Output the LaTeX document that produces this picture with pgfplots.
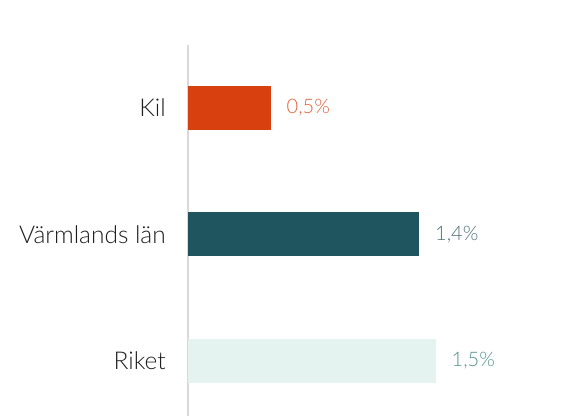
\documentclass[border=0pt]{standalone}
\usepackage{pgfplots}
\pgfplotsset{compat=1.18}
\usepackage{fontspec}
\setmainfont{Lato Light}
\definecolor{kilc}{HTML}{D9400F}
\definecolor{killab}{HTML}{E0623A}
\definecolor{varmc}{HTML}{1F555E}
\definecolor{varmlab}{HTML}{4E7177}
\definecolor{riketc}{HTML}{E4F3F0}
\definecolor{riketlab}{HTML}{55918F}
\definecolor{axc}{HTML}{D9D9D9}
\definecolor{txt}{HTML}{1E1E1E}
\begin{document}
\begin{tikzpicture}[x=1pt,y=1pt]
\useasboundingbox (0,0) rectangle (587,416);
\begin{axis}[
  at={(188pt,0pt)}, anchor=south west,
  scale only axis, width=399pt, height=371pt,
  xmin=0, xmax=2.418,
  ymin=-0.498, ymax=2.435,
  y dir=reverse,
  axis x line=none,
  axis y line=left,
  y axis line style={draw=axc, line width=2pt, -},
  ytick={0,1,2},
  yticklabels={Kil, Värmlands län, Riket},
  major tick length=0pt,
  yticklabel style={anchor=east, inner sep=0pt, xshift=-22pt, font=\fontsize{24.5}{26}\selectfont, text=txt},
  xbar, bar width=44pt, bar shift=0pt,
  point meta=explicit symbolic,
  nodes near coords,
  nodes near coords style={anchor=west, inner sep=0pt, xshift=16pt, font=\fontsize{20}{22}\selectfont},
  clip=false,
]
\addplot[draw=none, fill=kilc, every node near coord/.append style={text=killab}] coordinates {(0.5,0) [0,5\%]};
\addplot[draw=none, fill=varmc, every node near coord/.append style={text=varmlab}] coordinates {(1.4,1) [1,4\%]};
\addplot[draw=none, fill=riketc, every node near coord/.append style={text=riketlab}] coordinates {(1.5,2) [1,5\%]};
\end{axis}
\end{tikzpicture}
\end{document}
